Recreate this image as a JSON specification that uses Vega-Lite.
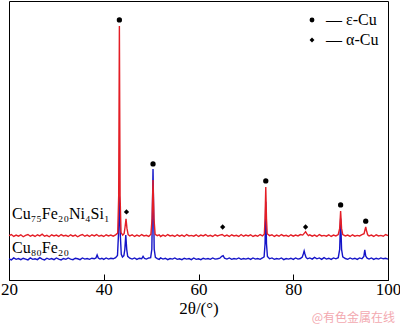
{
  "$schema": "https://vega.github.io/schema/vega-lite/v6.json",
  "width": 379,
  "height": 279,
  "autosize": {"type": "none"},
  "padding": {"left": 9, "top": 1, "right": 12, "bottom": 45},
  "config": {
    "view": {"stroke": "black", "strokeWidth": 1},
    "font": "Liberation Serif",
    "axis": {"labelFont": "Liberation Serif", "titleFont": "Liberation Serif"},
    "legend": {"labelFont": "Liberation Serif"},
    "text": {"font": "Liberation Serif"}
  },
  "datasets": {
    "blue": [
      {"x":20,"y":7.6},{"x":20.5,"y":7.2},{"x":21,"y":7.9},{"x":21.5,"y":7.4},{"x":22,"y":7.7},{"x":22.5,"y":7.3},{"x":23,"y":7.8},{"x":23.5,"y":7.5},{"x":24,"y":7.2},{"x":24.5,"y":7.9},{"x":25,"y":7.4},{"x":25.5,"y":7.6},{"x":26,"y":7.3},{"x":26.5,"y":8.0},{"x":27,"y":7.5},{"x":27.5,"y":7.2},{"x":28,"y":7.8},{"x":28.5,"y":7.4},{"x":29,"y":7.7},{"x":29.5,"y":7.3},{"x":30,"y":7.9},{"x":30.5,"y":7.5},{"x":31,"y":7.2},{"x":31.5,"y":7.7},{"x":32,"y":7.4},{"x":32.5,"y":7.9},{"x":33,"y":7.5},{"x":33.5,"y":7.3},{"x":34,"y":7.8},{"x":34.5,"y":7.6},{"x":35,"y":7.3},{"x":35.5,"y":7.9},{"x":36,"y":7.5},{"x":36.5,"y":7.7},{"x":37,"y":7.4},{"x":37.5,"y":7.8},{"x":38,"y":7.6},{"x":38.35,"y":7.9},{"x":38.6,"y":9.0},{"x":38.85,"y":7.9},{"x":39.2,"y":7.5},{"x":39.6,"y":7.8},{"x":40,"y":7.4},{"x":40.5,"y":7.9},{"x":41,"y":7.5},{"x":41.5,"y":7.8},{"x":42,"y":7.6},{"x":42.5,"y":8.0},{"x":42.9,"y":8.8},{"x":43.1,"y":16},{"x":43.3,"y":30},{"x":43.5,"y":16},{"x":43.7,"y":9.2},{"x":43.95,"y":8.2},{"x":44.25,"y":8.7},{"x":44.45,"y":11},{"x":44.65,"y":16.1},{"x":44.85,"y":11},{"x":45.05,"y":8.5},{"x":45.5,"y":7.8},{"x":46,"y":7.5},{"x":46.5,"y":7.9},{"x":47,"y":7.4},{"x":47.5,"y":7.8},{"x":48,"y":7.6},{"x":48.3,"y":8.5},{"x":48.6,"y":7.7},{"x":49,"y":7.5},{"x":49.5,"y":7.9},{"x":49.9,"y":8.0},{"x":50.15,"y":11},{"x":50.4,"y":39.8},{"x":50.65,"y":11},{"x":50.9,"y":8.1},{"x":51.3,"y":7.7},{"x":51.7,"y":7.4},{"x":52,"y":7.9},{"x":52.5,"y":7.5},{"x":53,"y":7.8},{"x":53.5,"y":7.3},{"x":54,"y":7.7},{"x":54.5,"y":7.5},{"x":55,"y":7.9},{"x":55.5,"y":7.4},{"x":56,"y":7.6},{"x":56.5,"y":7.3},{"x":57,"y":7.8},{"x":57.5,"y":7.5},{"x":58,"y":7.7},{"x":58.5,"y":7.3},{"x":59,"y":7.9},{"x":59.5,"y":7.4},{"x":60,"y":7.6},{"x":60.5,"y":7.3},{"x":61,"y":7.8},{"x":61.5,"y":7.5},{"x":62,"y":7.7},{"x":62.5,"y":7.4},{"x":63,"y":7.9},{"x":63.5,"y":7.5},{"x":64,"y":7.6},{"x":64.5,"y":7.8},{"x":64.9,"y":8.5},{"x":65.2,"y":8.7},{"x":65.5,"y":7.8},{"x":66,"y":7.5},{"x":66.5,"y":7.9},{"x":67,"y":7.4},{"x":67.5,"y":7.7},{"x":68,"y":7.5},{"x":68.5,"y":7.9},{"x":69,"y":7.4},{"x":69.5,"y":7.7},{"x":70,"y":7.5},{"x":70.5,"y":7.8},{"x":71,"y":7.4},{"x":71.5,"y":7.9},{"x":72,"y":7.5},{"x":72.5,"y":7.7},{"x":73,"y":7.4},{"x":73.5,"y":7.9},{"x":73.85,"y":8.3},{"x":74.05,"y":13},{"x":74.2,"y":28},{"x":74.35,"y":13},{"x":74.55,"y":8.4},{"x":75,"y":7.6},{"x":75.5,"y":7.9},{"x":76,"y":7.4},{"x":76.5,"y":7.7},{"x":77,"y":7.5},{"x":77.5,"y":7.9},{"x":78,"y":7.3},{"x":78.5,"y":7.7},{"x":79,"y":7.5},{"x":79.5,"y":7.8},{"x":80,"y":7.4},{"x":80.5,"y":7.9},{"x":81,"y":7.5},{"x":81.5,"y":7.7},{"x":81.9,"y":8.2},{"x":82.15,"y":9.5},{"x":82.3,"y":10.4},{"x":82.45,"y":9.4},{"x":82.7,"y":8.1},{"x":83,"y":7.6},{"x":83.5,"y":7.9},{"x":84,"y":7.5},{"x":84.5,"y":8.1},{"x":85,"y":7.6},{"x":85.5,"y":7.9},{"x":86,"y":7.4},{"x":86.5,"y":8.0},{"x":87,"y":7.5},{"x":87.5,"y":7.8},{"x":88,"y":7.4},{"x":88.5,"y":7.9},{"x":89,"y":7.6},{"x":89.5,"y":8.0},{"x":89.8,"y":11},{"x":90,"y":22},{"x":90.2,"y":11},{"x":90.45,"y":8.3},{"x":91,"y":7.7},{"x":91.5,"y":7.4},{"x":92,"y":7.9},{"x":92.5,"y":7.5},{"x":93,"y":7.8},{"x":93.5,"y":7.4},{"x":94,"y":7.9},{"x":94.5,"y":7.6},{"x":94.9,"y":8.4},{"x":95.1,"y":10.8},{"x":95.3,"y":8.6},{"x":95.6,"y":7.8},{"x":96,"y":7.5},{"x":96.5,"y":7.9},{"x":97,"y":7.4},{"x":97.5,"y":7.8},{"x":98,"y":7.5},{"x":98.5,"y":7.9},{"x":99,"y":7.6},{"x":99.5,"y":7.8},{"x":100,"y":7.5}
    ],
    "red": [
      {"x":20,"y":15.9},{"x":20.5,"y":16.3},{"x":21,"y":15.6},{"x":21.5,"y":16.1},{"x":22,"y":15.7},{"x":22.5,"y":16.2},{"x":23,"y":15.5},{"x":23.5,"y":16.0},{"x":24,"y":16.3},{"x":24.5,"y":15.7},{"x":25,"y":16.1},{"x":25.5,"y":15.6},{"x":26,"y":16.2},{"x":26.5,"y":15.8},{"x":27,"y":16.4},{"x":27.5,"y":15.7},{"x":28,"y":16.0},{"x":28.5,"y":15.5},{"x":29,"y":16.2},{"x":29.5,"y":15.8},{"x":30,"y":16.1},{"x":30.5,"y":15.6},{"x":31,"y":16.3},{"x":31.5,"y":15.8},{"x":32,"y":16.0},{"x":32.5,"y":15.6},{"x":33,"y":16.2},{"x":33.5,"y":15.7},{"x":34,"y":16.1},{"x":34.5,"y":15.5},{"x":35,"y":16.0},{"x":35.5,"y":16.3},{"x":36,"y":15.7},{"x":36.5,"y":16.1},{"x":37,"y":15.6},{"x":37.5,"y":16.2},{"x":38,"y":15.8},{"x":38.5,"y":16.3},{"x":39,"y":15.7},{"x":39.5,"y":16.0},{"x":40,"y":15.6},{"x":40.5,"y":16.2},{"x":41,"y":15.8},{"x":41.5,"y":16.1},{"x":42,"y":15.7},{"x":42.5,"y":16.2},{"x":42.95,"y":16.8},{"x":43.15,"y":30},{"x":43.3,"y":91},{"x":43.45,"y":30},{"x":43.65,"y":17.0},{"x":44.0,"y":16.1},{"x":44.3,"y":16.6},{"x":44.5,"y":19},{"x":44.7,"y":21.9},{"x":44.9,"y":18.5},{"x":45.15,"y":16.3},{"x":45.5,"y":15.8},{"x":46,"y":16.2},{"x":46.5,"y":15.6},{"x":47,"y":16.1},{"x":47.5,"y":15.7},{"x":48,"y":16.3},{"x":48.5,"y":15.8},{"x":49,"y":16.0},{"x":49.5,"y":15.6},{"x":49.95,"y":16.4},{"x":50.2,"y":22},{"x":50.4,"y":35.8},{"x":50.6,"y":22},{"x":50.85,"y":16.4},{"x":51.3,"y":15.9},{"x":51.7,"y":16.2},{"x":52,"y":15.6},{"x":52.5,"y":16.1},{"x":53,"y":15.7},{"x":53.5,"y":16.3},{"x":54,"y":15.8},{"x":54.5,"y":16.0},{"x":55,"y":15.6},{"x":55.5,"y":16.2},{"x":56,"y":15.7},{"x":56.5,"y":16.1},{"x":57,"y":15.6},{"x":57.5,"y":16.3},{"x":58,"y":15.8},{"x":58.5,"y":16.0},{"x":59,"y":15.7},{"x":59.5,"y":16.2},{"x":60,"y":15.6},{"x":60.5,"y":16.1},{"x":61,"y":15.8},{"x":61.5,"y":16.3},{"x":62,"y":15.7},{"x":62.5,"y":16.0},{"x":63,"y":15.6},{"x":63.5,"y":16.2},{"x":64,"y":15.8},{"x":64.5,"y":16.1},{"x":65,"y":16.3},{"x":65.5,"y":15.7},{"x":66,"y":16.1},{"x":66.5,"y":15.6},{"x":67,"y":16.2},{"x":67.5,"y":15.8},{"x":68,"y":16.0},{"x":68.5,"y":15.6},{"x":69,"y":16.3},{"x":69.5,"y":15.7},{"x":70,"y":16.1},{"x":70.5,"y":15.8},{"x":71,"y":16.2},{"x":71.5,"y":15.6},{"x":72,"y":16.0},{"x":72.5,"y":15.7},{"x":73,"y":16.3},{"x":73.5,"y":15.8},{"x":73.9,"y":16.5},{"x":74.05,"y":22},{"x":74.2,"y":33.3},{"x":74.35,"y":22},{"x":74.5,"y":16.6},{"x":75,"y":15.9},{"x":75.5,"y":16.2},{"x":76,"y":15.6},{"x":76.5,"y":16.1},{"x":77,"y":15.7},{"x":77.5,"y":16.3},{"x":78,"y":15.8},{"x":78.5,"y":16.0},{"x":79,"y":15.6},{"x":79.5,"y":16.2},{"x":80,"y":15.7},{"x":80.5,"y":16.1},{"x":81,"y":15.8},{"x":81.5,"y":16.3},{"x":82,"y":16.1},{"x":82.4,"y":16.9},{"x":82.6,"y":17.3},{"x":82.85,"y":16.6},{"x":83.2,"y":15.9},{"x":83.5,"y":16.2},{"x":84,"y":15.7},{"x":84.5,"y":16.1},{"x":85,"y":15.6},{"x":85.5,"y":16.3},{"x":86,"y":15.8},{"x":86.5,"y":16.0},{"x":87,"y":15.7},{"x":87.5,"y":16.2},{"x":88,"y":15.6},{"x":88.5,"y":16.1},{"x":89,"y":15.8},{"x":89.5,"y":16.3},{"x":89.8,"y":18.5},{"x":90,"y":24.7},{"x":90.2,"y":18.5},{"x":90.45,"y":16.3},{"x":91,"y":15.8},{"x":91.5,"y":16.1},{"x":92,"y":15.6},{"x":92.5,"y":16.2},{"x":93,"y":15.7},{"x":93.5,"y":16.0},{"x":94,"y":15.8},{"x":94.5,"y":16.3},{"x":94.95,"y":16.6},{"x":95.15,"y":18},{"x":95.3,"y":19.0},{"x":95.45,"y":17.8},{"x":95.7,"y":16.2},{"x":96,"y":15.8},{"x":96.5,"y":16.1},{"x":97,"y":15.6},{"x":97.5,"y":16.2},{"x":98,"y":15.8},{"x":98.5,"y":16.0},{"x":99,"y":15.7},{"x":99.5,"y":16.3},{"x":100,"y":15.9}
    ],
    "markers": [
      {"x":43.3,"y":93.2,"phase":"ε-Cu"},
      {"x":50.4,"y":41.6,"phase":"ε-Cu"},
      {"x":74.2,"y":35.5,"phase":"ε-Cu"},
      {"x":90.0,"y":26.9,"phase":"ε-Cu"},
      {"x":95.3,"y":21.1,"phase":"ε-Cu"},
      {"x":44.8,"y":24.4,"phase":"α-Cu"},
      {"x":65.1,"y":19.0,"phase":"α-Cu"},
      {"x":82.6,"y":19.0,"phase":"α-Cu"}
    ],
    "labels": [
      {"x":20.63,"y":21.9,"t":"Cu₇₅Fe₂₀Ni₄Si₁"},
      {"x":20.63,"y":9.8,"t":"Cu₈₀Fe₂₀"}
    ],
    "mark": [
      {"x":101.5,"y":-15,"t":"@有色金属在线"}
    ]
  },
  "layer": [
    {
      "data": {"name": "blue"},
      "mark": {"type": "line", "color": "#1414c8", "strokeWidth": 1.4},
      "encoding": {
        "x": {"field": "x", "type": "quantitative", "scale": {"domain": [20, 100]},
          "axis": {"values": [20, 40, 60, 80, 100], "title": "2θ/(°)", "domainColor": "black",
            "ticks": true, "tickColor": "black", "tickWidth": 1, "tickSize": -6, "labelPadding": 7, "labelFlush": false,
            "labelFontSize": 17, "labelColor": "black", "labelFont": "Liberation Serif",
            "titleFontSize": 17, "titleFontWeight": "normal", "titleColor": "black",
            "titleFont": "Liberation Serif", "titlePadding": 3, "grid": false}},
        "y": {"field": "y", "type": "quantitative", "scale": {"domain": [0, 100]}, "axis": null}
      }
    },
    {
      "data": {"name": "red"},
      "mark": {"type": "line", "color": "#e41e26", "strokeWidth": 1.4},
      "encoding": {
        "x": {"field": "x", "type": "quantitative"},
        "y": {"field": "y", "type": "quantitative"}
      }
    },
    {
      "data": {"name": "markers"},
      "mark": {"type": "point", "filled": true, "color": "black", "opacity": 1, "size": 28},
      "encoding": {
        "x": {"field": "x", "type": "quantitative"},
        "y": {"field": "y", "type": "quantitative"},
        "shape": {"field": "phase", "type": "nominal",
          "scale": {"domain": ["ε-Cu", "α-Cu"], "range": ["circle", "diamond"]},
          "legend": {"orient": "none", "legendX": 295, "legendY": 11, "title": null,
            "labelExpr": "'— ' + datum.label", "labelFontSize": 16, "labelFont": "Liberation Serif",
            "labelColor": "black", "symbolFillColor": "black", "symbolStrokeColor": "black",
            "symbolSize": 24, "rowPadding": 4, "padding": 0, "labelOffset": 6}}
      }
    },
    {
      "data": {"name": "labels"},
      "mark": {"type": "text", "align": "left", "baseline": "alphabetic", "fontSize": 16, "font": "Liberation Serif", "color": "black"},
      "encoding": {
        "x": {"field": "x", "type": "quantitative"},
        "y": {"field": "y", "type": "quantitative"},
        "text": {"field": "t"}
      }
    },
    {
      "data": {"name": "mark"},
      "mark": {"type": "text", "align": "right", "baseline": "alphabetic", "fontSize": 12, "font": "Noto Sans CJK SC", "color": "#f3a9b0", "clip": false},
      "encoding": {
        "x": {"field": "x", "type": "quantitative"},
        "y": {"field": "y", "type": "quantitative"},
        "text": {"field": "t"}
      }
    }
  ]
}
